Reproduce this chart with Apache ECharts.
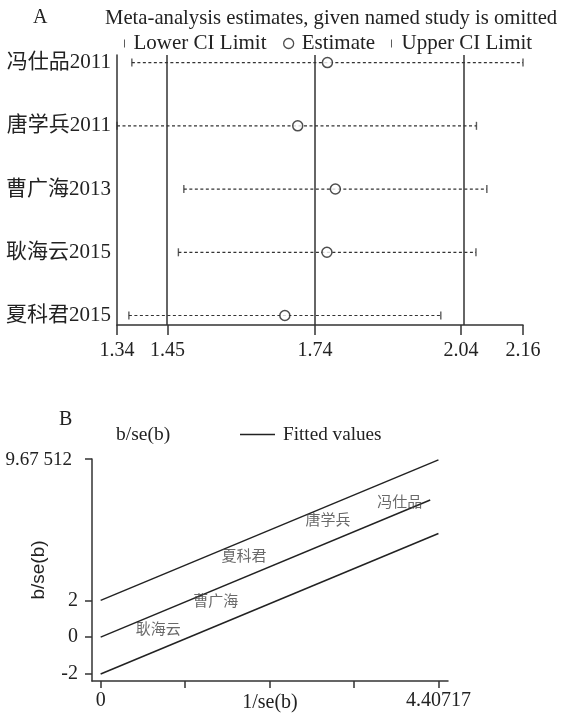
<!DOCTYPE html>
<html><head><meta charset="utf-8">
<script src="https://cdn.jsdelivr.net/npm/echarts@6/dist/echarts.min.js"></script>
<style>html,body{margin:0;padding:0;background:#fff}#c{width:584px;height:717px}</style>
</head><body><div id="c"></div>
<script>
// ---------- Panel A data (influence analysis) ----------
const studies = ['冯仕品2011', '唐学兵2011', '曹广海2013', '耿海云2015', '夏科君2015'];
const lowerCI = [1.370, 1.340, 1.475, 1.464, 1.364];
const estimate = [1.765, 1.705, 1.781, 1.764, 1.679];
const upperCI = [2.160, 2.066, 2.087, 2.065, 1.994];
const refLines = [1.442, 1.740, 2.035];
const xTicksA = [1.34, 1.442, 1.74, 2.035, 2.16];
const xTickLabelsA = ['1.34', '1.45', '1.74', '2.04', '2.16'];

// ---------- Panel B data (Galbraith plot) ----------
const galbLabels = ['冯仕品', '唐学兵', '夏科君', '曹广海', '耿海云'];
const invSE = [3.902, 2.967, 1.871, 1.501, 0.751];
const bOverSE = [7.376, 6.394, 4.457, 2.002, 0.502];
const fitX = [0, 4.30];
const fitY = [0, 7.45];
const upperX = [0, 4.40717];
const upperY = [2, 9.63];
const lowerX = [0, 4.40717];
const lowerY = [-2, 5.63];
const xTicksB = [0, 1.1018, 2.2036, 3.3054, 4.40717];
const xLabelValsB = [0, 4.40717];
const xLabelTextB = ['0', '4.40717'];
const yTicksB = [-2, 0, 2, 9.67512];
const yTickLabelsB = ['-2', '0', '2', '9.67 512'];

const SERIF = "'Liberation Serif','Times New Roman','Noto Sans CJK SC',serif";
const INK = '#222';
const near = (arr, v) => arr.findIndex(a => Math.abs(a - v) < 1e-6);

const chart = echarts.init(document.getElementById('c'), null, {renderer: 'canvas'});
const tickPath = 'path://M0,0H1V8H0Z';
const linePath = 'path://M0,0H35V1.5H0Z';

const option = {
  animation: false,
  backgroundColor: '#fff',
  textStyle: {fontFamily: SERIF, color: INK},
  title: [
    {text: 'A', left: 28, top: 3, textStyle: {fontFamily: SERIF, fontSize: 20, fontWeight: 'normal', color: INK}},
    {text: 'Meta-analysis estimates, given named study is omitted', left: 100, top: 3,
     textStyle: {fontFamily: SERIF, fontSize: 20.7, fontWeight: 'normal', color: INK}},
    {text: 'B', left: 54, top: 405, textStyle: {fontFamily: SERIF, fontSize: 20, fontWeight: 'normal', color: INK}}
  ],
  legend: [
    {data: [{name: 'Lower CI Limit', icon: tickPath}], left: 119, top: 28, itemWidth: 6, itemHeight: 8,
     textStyle: {fontFamily: SERIF, fontSize: 21, color: INK, padding: [0, 0, 0, 1]}},
    {data: [{name: 'Estimate', icon: 'circle', itemStyle: {color: '#fff', borderColor: '#222', borderWidth: 1.3}}],
     left: 278, top: 28, itemWidth: 10, itemHeight: 10,
     textStyle: {fontFamily: SERIF, fontSize: 21, color: INK, padding: [0, 0, 0, 3]}},
    {data: [{name: 'Upper CI Limit', icon: tickPath}], left: 386, top: 28, itemWidth: 6, itemHeight: 8,
     textStyle: {fontFamily: SERIF, fontSize: 21, color: INK, padding: [0, 0, 0, 2]}},
    {data: [{name: 'b/se(b)', icon: 'none'}], left: 71, top: 420, itemWidth: 35, itemHeight: 14,
     textStyle: {fontFamily: SERIF, fontSize: 19.5, color: INK}},
    {data: [{name: 'Fitted values', icon: linePath}], left: 235, top: 420, itemWidth: 35, itemHeight: 14,
     textStyle: {fontFamily: SERIF, fontSize: 19.2, color: INK, padding: [0, 0, 0, 3]}}
  ],
  grid: [
    {left: 117, right: 61, top: 55, bottom: 392, outerBoundsMode: 'none'},
    {left: 92, right: 136, top: 459, bottom: 36, outerBoundsMode: 'none'}
  ],
  xAxis: [
    {gridIndex: 0, type: 'value', min: 1.34, max: 2.16,
     axisLine: {show: true, onZero: false, lineStyle: {color: '#333', width: 1.5}},
     axisTick: {show: true, customValues: xTicksA, length: 10, lineStyle: {color: '#333', width: 1.5}},
     axisLabel: {customValues: xTicksA, margin: 16, fontFamily: SERIF, fontSize: 20, color: INK,
                 formatter: v => xTickLabelsA[near(xTicksA, v)]},
     splitLine: {show: false}},
    {gridIndex: 1, type: 'value', min: -0.113, max: 4.532,
     axisLine: {show: true, onZero: false, lineStyle: {color: '#333', width: 1.5}},
     axisTick: {show: true, customValues: xTicksB, length: 7, lineStyle: {color: '#333', width: 1.5}},
     axisLabel: {customValues: xLabelValsB, margin: 10, fontFamily: SERIF, fontSize: 20, color: INK,
                 formatter: v => xLabelTextB[near(xLabelValsB, v)]},
     name: '1/se(b)', nameLocation: 'middle', nameGap: 12, nameMoveOverlap: false,
     nameTextStyle: {fontFamily: SERIF, fontSize: 20, color: INK},
     splitLine: {show: false}}
  ],
  yAxis: [
    {gridIndex: 0, type: 'value', inverse: true, min: 0.88, max: 5.15,
     axisLine: {show: true, onZero: false, lineStyle: {color: '#333', width: 1.5}},
     axisTick: {show: false},
     axisLabel: {customValues: [1, 2, 3, 4, 5], margin: 6, fontFamily: SERIF, fontSize: 21, color: INK,
                 formatter: v => studies[Math.round(v) - 1]},
     splitLine: {show: false}},
    {gridIndex: 1, type: 'value', min: -2.38, max: 9.67512,
     axisLine: {show: true, onZero: false, lineStyle: {color: '#333', width: 1.5}},
     axisTick: {show: true, customValues: yTicksB, length: 7, lineStyle: {color: '#333', width: 1.5}},
     axisLabel: {customValues: yTicksB, margin: 14, fontFamily: SERIF, fontSize: 20, color: INK,
                 formatter: v => {
                   const i = near(yTicksB, v);
                   return i === yTicksB.length - 1 ? '{p|' + yTickLabelsB[i] + '}' : yTickLabelsB[i];
                 },
                 rich: {p: {fontFamily: SERIF, fontSize: 19, color: INK, padding: [3, 6, 0, 0]}}},
     name: 'b/se(b)', nameLocation: 'middle', nameRotate: 90, nameGap: 44, nameMoveOverlap: false,
     nameTextStyle: {fontFamily: "'Liberation Sans',Arial,sans-serif", fontSize: 19, color: INK},
     splitLine: {show: false}}
  ],
  series: [
    {type: 'custom', name: 'CI', xAxisIndex: 0, yAxisIndex: 0, silent: true, z: 1,
     data: studies.map((s, i) => [lowerCI[i], upperCI[i], i + 1]),
     encode: {x: [0, 1], y: 2},
     renderItem: (params, api) => {
       const p1 = api.coord([api.value(0), api.value(2)]);
       const p2 = api.coord([api.value(1), api.value(2)]);
       return {type: 'line', shape: {x1: p1[0], y1: p1[1], x2: p2[0], y2: p2[1]},
               style: {stroke: '#333', lineWidth: 1.2, lineDash: [3, 2.5]}};
     }},
    {type: 'scatter', name: 'Lower CI Limit', xAxisIndex: 0, yAxisIndex: 0, z: 3,
     symbol: 'rect', symbolSize: [1.4, 8], itemStyle: {color: '#333'},
     data: studies.map((s, i) => [lowerCI[i], i + 1]),
     markLine: {silent: true, symbol: ['none', 'none'], label: {show: false},
                lineStyle: {color: '#333', width: 1.5, type: 'solid'},
                data: refLines.map(v => ({xAxis: v}))}},
    {type: 'scatter', name: 'Estimate', xAxisIndex: 0, yAxisIndex: 0, z: 4,
     symbol: 'circle', symbolSize: 10, itemStyle: {color: '#fff', borderColor: '#222', borderWidth: 1.5},
     data: studies.map((s, i) => [estimate[i], i + 1])},
    {type: 'scatter', name: 'Upper CI Limit', xAxisIndex: 0, yAxisIndex: 0, z: 3,
     symbol: 'rect', symbolSize: [1.4, 8], itemStyle: {color: '#333'},
     data: studies.map((s, i) => [upperCI[i], i + 1])},

    {type: 'scatter', name: 'b/se(b)', xAxisIndex: 1, yAxisIndex: 1, z: 5,
     symbol: 'circle', symbolSize: 0.1, itemStyle: {color: 'rgba(0,0,0,0)'},
     label: {show: true, position: 'inside', formatter: p => p.data[2],
             fontFamily: "'Noto Sans CJK SC',sans-serif", fontSize: 15, color: '#444'},
     data: galbLabels.map((n, i) => [invSE[i], bOverSE[i], n])},
    {type: 'line', name: 'Fitted values', xAxisIndex: 1, yAxisIndex: 1, symbol: 'none', showSymbol: false,
     lineStyle: {color: '#222', width: 1.5}, itemStyle: {color: '#222'},
     data: upperX.map((x, i) => [x, upperY[i]])},
    {type: 'line', name: 'Fitted values', xAxisIndex: 1, yAxisIndex: 1, symbol: 'none', showSymbol: false,
     lineStyle: {color: '#222', width: 1.5}, itemStyle: {color: '#222'},
     data: fitX.map((x, i) => [x, fitY[i]])},
    {type: 'line', name: 'Fitted values', xAxisIndex: 1, yAxisIndex: 1, symbol: 'none', showSymbol: false,
     lineStyle: {color: '#222', width: 1.5}, itemStyle: {color: '#222'},
     data: lowerX.map((x, i) => [x, lowerY[i]])}
  ]
};
chart.setOption(option);
</script>
</body></html>
